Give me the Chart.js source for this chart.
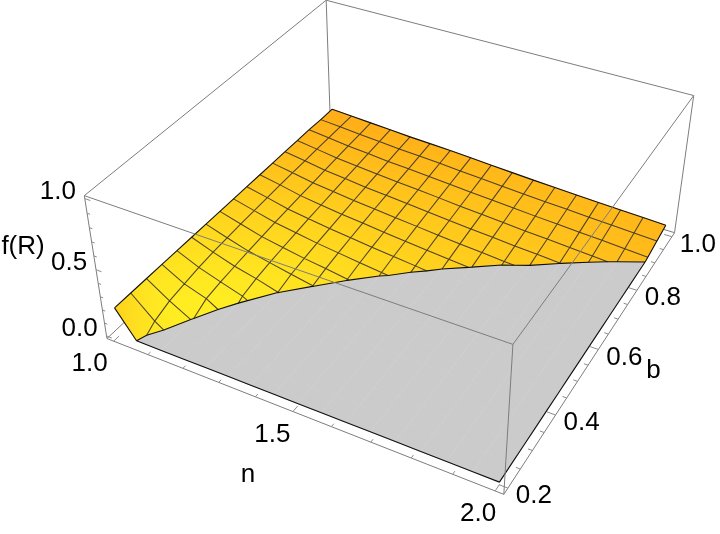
<!DOCTYPE html>
<html>
<head>
<meta charset="utf-8">
<style>
  html, body { margin: 0; padding: 0; background: #fff; }
  #plot { display: block; }
</style>
<script src="https://cdn.jsdelivr.net/npm/chart.js@4"></script>
</head>
<body>
<canvas id="plot" width="720" height="534"></canvas>
<script>
const nGrid = [1, 1.0625, 1.125, 1.1875, 1.25, 1.3125, 1.375, 1.4375, 1.5, 1.5625, 1.625, 1.6875, 1.75, 1.8125, 1.875, 1.9375, 2];
const bGrid = [0.2, 0.25, 0.3, 0.35, 0.4, 0.45, 0.5, 0.55, 0.6, 0.65, 0.7, 0.75, 0.8, 0.85, 0.9, 0.95, 1];
const fRows = [
  [.2, .2, .2, .2, .2, .2, .2, .2, .2, .2, .2, .2, .2, .2, .2, .195, .195],
  [-.035, .045, .088, .108, .128, .14, .148, .155, .16, .165, .17, .173, .176, .179, .181, .183, .185],
  [-.14, -.07, -.006, .053, .073, .087, .1, .11, .12, .128, .136, .143, .15, .157, .163, .169, .175],
  [-.17, -.13, -.09, -.049, .021, .048, .066, .08, .093, .104, .114, .124, .133, .141, .15, .158, .165],
  [-.22, -.19, -.16, -.115, -.07, .001, .033, .051, .067, .08, .093, .105, .115, .126, .136, .146, .155],
  [-.18, -.15, -.12, -.09, -.06, -.03, .001, .028, .046, .062, .077, .09, .102, .114, .126, .137, .148],
  [-.175, -.15, -.125, -.1, -.075, -.05, -.025, .002, .025, .043, .059, .074, .088, .102, .115, .128, .14],
  [-.185, -.16, -.14, -.115, -.09, -.07, -.045, -.024, .006, .026, .043, .059, .074, .089, .103, .116, .13],
  [-.175, -.155, -.135, -.115, -.095, -.075, -.055, -.035, -.014, .009, .027, .044, .06, .075, .09, .105, .12],
  [-.188, -.168, -.148, -.128, -.108, -.088, -.068, -.048, -.028, -.008, .012, .03, .047, .063, .079, .095, .11],
  [-.18, -.162, -.144, -.126, -.108, -.09, -.072, -.054, -.036, -.018, -.0015, .018, .035, .052, .068, .084, .1],
  [-.191, -.174, -.156, -.138, -.12, -.103, -.085, -.067, -.05, -.032, -.014, .004, .021, .039, .057, .074, .092],
  [-.203, -.185, -.167, -.149, -.131, -.113, -.095, -.077, -.059, -.041, -.023, -.005, .0125, .03, .048, .066, .084],
  [-.228, -.209, -.19, -.171, -.152, -.133, -.114, -.095, -.076, -.057, -.038, -.019, .0005, .019, .038, .057, .076],
  [-.256, -.236, -.215, -.195, -.175, -.154, -.134, -.114, -.093, -.073, -.053, -.032, -.012, .008, .028, .049, .069],
  [-.292, -.27, -.248, -.226, -.204, -.181, -.159, -.137, -.115, -.093, -.071, -.049, -.027, -.004, .018, .04, .062],
  [-.328, -.304, -.28, -.256, -.232, -.208, -.184, -.16, -.136, -.112, -.089, -.065, -.041, -.017, .007, .031, .055]
];
const nTicks = [1, 1.1, 1.2, 1.3, 1.4, 1.5, 1.6, 1.7, 1.8, 1.9, 2];
const bTicks = [0.2, 0.25, 0.3, 0.35, 0.4, 0.45, 0.5, 0.55, 0.6, 0.65, 0.7, 0.75, 0.8, 0.85, 0.9, 0.95, 1];
const zTicks = [0, 0.1, 0.2, 0.3, 0.4, 0.5, 0.6, 0.7, 0.8, 0.9, 1];
const nLabels = [1, 1.5, 2];
const bLabels = [0.2, 0.4, 0.6, 0.8, 1];
const zLabels = [0, 0.5, 1];

// plot box limits (2% padding round the data, as the original has)
const nBox = [0.98, 2.02];
const bBox = [0.184, 1.016];
const zBox = [-0.02, 1.02];

// where the 8 box corners land on the page, used to fit the camera
const cornerFit = [
  [0, 0, 0, 107, 338], [1, 0, 0, 504, 494], [1, 1, 0, 675, 233], [0, 1, 0, 330, 130],
  [0, 0, 1, 84, 196], [1, 0, 1, 513, 345], [1, 1, 1, 693, 95], [0, 1, 1, 327, 0]
];

function solve(A, y) {
  const m = A.map((row, i) => row.concat(y[i]));
  const k = m.length;
  for (let i = 0; i < k; i++) {
    let best = i;
    for (let r = i + 1; r < k; r++) if (Math.abs(m[r][i]) > Math.abs(m[best][i])) best = r;
    [m[i], m[best]] = [m[best], m[i]];
    for (let r = 0; r < k; r++) {
      if (r === i) continue;
      const f = m[r][i] / m[i][i];
      for (let c = i; c <= k; c++) m[r][c] -= f * m[i][c];
    }
  }
  return m.map((row, i) => row[k] / row[i]);
}

function fitCamera() {
  const rows = [], rhs = [];
  cornerFit.forEach(([u, v, w, x, y]) => {
    rows.push([u, v, w, 1, 0, 0, 0, 0, -x * u, -x * v, -x * w]); rhs.push(x);
    rows.push([0, 0, 0, 0, u, v, w, 1, -y * u, -y * v, -y * w]); rhs.push(y);
  });
  const AtA = [], Atb = [];
  for (let i = 0; i < 11; i++) {
    AtA.push([]);
    for (let j = 0; j < 11; j++) AtA[i].push(rows.reduce((s, r) => s + r[i] * r[j], 0));
    Atb.push(rows.reduce((s, r, k) => s + r[i] * rhs[k], 0));
  }
  return solve(AtA, Atb);
}
const cam = fitCamera();

function project(n, b, z) {
  const u = (n - nBox[0]) / (nBox[1] - nBox[0]);
  const v = (b - bBox[0]) / (bBox[1] - bBox[0]);
  const w = (z - zBox[0]) / (zBox[1] - zBox[0]);
  const d = cam[8] * u + cam[9] * v + cam[10] * w + 1;
  return {
    x: (cam[0] * u + cam[1] * v + cam[2] * w + cam[3]) / d,
    y: (cam[4] * u + cam[5] * v + cam[6] * w + cam[7]) / d
  };
}

const ctx = document.getElementById('plot').getContext('2d');

// colour over the sheet: orange at the back, yellow hot spot near the left front,
// going orange again in the steep corner at the far left
function shadeT(x, y) {
  const d = Math.hypot((x - 195) / 2.4, y - 312);
  let t = 1 - Math.pow(d / 215, 1.15);
  t += 0.15 * Math.min(1, Math.max(0, (x - 400) / 250));
  const corner = Math.hypot(x - 113, y - 312);
  t *= 1 - 0.65 * Math.exp(-corner / 18);
  return t;
}
function shade(t) {
  const k = Math.max(0, t);
  const g = Math.round(170 + (240 - 170) * k);
  const bl = Math.round(24 + (34 - 24) * k);
  return 'rgb(255,' + g + ',' + bl + ')';
}
// linear gradient laid along the local slope of the colour, so neighbours join up
function cellGradient(quad) {
  const pts = quad.map(p => project(p.n, p.b, Math.max(p.z, 0)));
  const cx = pts.reduce((s, p) => s + p.x, 0) / 4;
  const cy = pts.reduce((s, p) => s + p.y, 0) / 4;
  const gx = shadeT(cx + 4, cy) - shadeT(cx - 4, cy);
  const gy = shadeT(cx, cy + 4) - shadeT(cx, cy - 4);
  const len = Math.hypot(gx, gy) || 1;
  const ux = gx / len * 30, uy = gy / len * 30;
  const grad = ctx.createLinearGradient(cx - ux, cy - uy, cx + ux, cy + uy);
  grad.addColorStop(0, shade(shadeT(cx - ux, cy - uy)));
  grad.addColorStop(0.5, shade(shadeT(cx, cy)));
  grad.addColorStop(1, shade(shadeT(cx + ux, cy + uy)));
  return grad;
}

// cut a polygon at z = 0 and keep the side given by sign
function clipZero(poly, sign) {
  const out = [];
  poly.forEach((p, i) => {
    const q = poly[(i + 1) % poly.length];
    const pIn = sign * p.z >= 0, qIn = sign * q.z >= 0;
    if (pIn) out.push(p);
    if (pIn !== qIn) {
      const t = p.z / (p.z - q.z);
      out.push({ n: p.n + t * (q.n - p.n), b: p.b + t * (q.b - p.b), z: 0 });
    }
  });
  return out;
}

function vertex(i, j) { return { n: nGrid[i], b: bGrid[j], z: fRows[i][j] }; }

function polyline(points, extra) {
  return Object.assign({ data: points, showLine: true, pointRadius: 0, borderWidth: 1, tension: 0, fill: false }, extra);
}
// several separate strokes in one dataset, broken by null points
function strokes(list, color, width) {
  const data = [];
  list.forEach(seg => {
    seg.forEach(p => data.push(project(p[0], p[1], p[2])));
    data.push({ x: null, y: null });
  });
  return polyline(data, { borderColor: color, borderWidth: width });
}

const [n0, n1] = nBox, [b0, b1] = bBox, [z0, z1] = zBox;
const boxColor = '#7d7d7d';
const backEdges = [
  [[n0, b1, z0], [n0, b1, z1]],
  [[n0, b0, z1], [n0, b1, z1]],
  [[n0, b1, z1], [n1, b1, z1]],
  [[n1, b1, z0], [n1, b1, z1]],
  [[n0, b0, z0], [n0, b1, z0]],
  [[n0, b1, z0], [n1, b1, z0]],
  [[n0, b0, z0], [n0, b0, z1]],
  [[n0, b0, z0], [n1, b0, z0]],
  [[n1, b0, z0], [n1, b1, z0]]
];
const frontEdges = [
  [[n0, b0, z1], [n1, b0, z1]],
  [[n1, b0, z1], [n1, b1, z1]],
  [[n1, b0, z0], [n1, b0, z1]]
];

const spanN = n1 - n0, spanB = b1 - b0;
const tickSegs = [];
nTicks.forEach(n => {
  const len = nLabels.includes(n) ? 0.02 : 0.01;
  tickSegs.push([[n, b0, z0], [n, b0 + len * spanB, z0]]);
});
bTicks.forEach(b => {
  const len = bLabels.includes(b) ? 0.02 : 0.01;
  tickSegs.push([[n1, b, z0], [n1 - len * spanN, b, z0]]);
});
zTicks.forEach(z => {
  const len = zLabels.includes(z) ? 0.015 : 0.008;
  tickSegs.push([[n0, b0, z], [n0 + len * spanN, b0, z]]);
});

// build everything in painting order
const layers = [];
layers.push(strokes(backEdges, boxColor, 1));
layers.push(strokes(tickSegs, '#8c8c8c', 1));

const grey = '#cbcbcb';
const sheet = [];
for (let j = bGrid.length - 2; j >= 0; j--) {
  for (let i = 0; i < nGrid.length - 1; i++) {
    const quad = [vertex(i, j), vertex(i + 1, j), vertex(i + 1, j + 1), vertex(i, j + 1)];
    const below = clipZero(quad, -1);
    if (below.length > 2) {
      layers.push(polyline(below.map(p => project(p.n, p.b, 0)), { fill: 'shape', backgroundColor: grey, borderColor: grey, borderWidth: 0.8 }));
    }
    sheet.push(quad);
  }
}
sheet.forEach(quad => {
  const above = clipZero(quad, 1);
  if (above.length < 3) return;
  const grad = cellGradient(quad);
  layers.push(polyline(above.map(p => project(p.n, p.b, p.z)), { fill: 'shape', backgroundColor: grad, borderColor: grad, borderWidth: 0.7 }));
});

// a line along the grid, only the part above zero
function aboveParts(pts) {
  const parts = [];
  let cur = [];
  for (let k = 0; k < pts.length; k++) {
    const p = pts[k];
    if (p.z >= 0) cur.push([p.n, p.b, p.z]);
    if (k < pts.length - 1) {
      const q = pts[k + 1];
      if ((p.z >= 0) !== (q.z >= 0)) {
        const t = p.z / (p.z - q.z);
        const cross = [p.n + t * (q.n - p.n), p.b + t * (q.b - p.b), 0];
        cur.push(cross);
        if (p.z >= 0) { parts.push(cur); cur = []; }
      }
    }
  }
  if (cur.length > 1) parts.push(cur);
  return parts;
}

const meshSegs = [];
for (let i = 1; i < nGrid.length - 1; i++) {
  meshSegs.push(...aboveParts(bGrid.map((_, j) => vertex(i, j))));
}
for (let j = 1; j < bGrid.length - 1; j++) {
  meshSegs.push(...aboveParts(nGrid.map((_, i) => vertex(i, j))));
}
layers.push(strokes(meshSegs, 'rgba(58,50,36,0.9)', 1.05));

// black outline: sheet rim, zero contour, floor rim
const rimSegs = [];
rimSegs.push(bGrid.map((_, j) => { const p = vertex(0, j); return [p.n, p.b, p.z]; }));
rimSegs.push(nGrid.map((_, i) => { const p = vertex(i, bGrid.length - 1); return [p.n, p.b, p.z]; }));
rimSegs.push(...aboveParts(bGrid.map((_, j) => vertex(nGrid.length - 1, j))));
rimSegs.push(...aboveParts(nGrid.map((_, i) => vertex(i, 0))));
// floor rim where the sheet is clipped
const floorFront = [], floorSide = [];
nGrid.forEach((n, i) => { const p = vertex(i, 0); if (p.z <= 0) floorFront.push([n, bGrid[0], 0]); });
floorFront.unshift(aboveParts(nGrid.map((_, i) => vertex(i, 0)))[0].slice(-1)[0]);
bGrid.forEach((b, j) => { const p = vertex(nGrid.length - 1, j); if (p.z <= 0) floorSide.push([nGrid[nGrid.length - 1], b, 0]); });
floorSide.push(aboveParts(bGrid.map((_, j) => vertex(nGrid.length - 1, j)))[0][0]);
rimSegs.push(floorFront, floorSide);
// zero contour, one piece per cell
for (let i = 0; i < nGrid.length - 1; i++) {
  for (let j = 0; j < bGrid.length - 1; j++) {
    const quad = [vertex(i, j), vertex(i + 1, j), vertex(i + 1, j + 1), vertex(i, j + 1)];
    const hits = [];
    quad.forEach((p, k) => {
      const q = quad[(k + 1) % 4];
      if ((p.z >= 0) !== (q.z >= 0)) {
        const t = p.z / (p.z - q.z);
        hits.push([p.n + t * (q.n - p.n), p.b + t * (q.b - p.b), 0]);
      }
    });
    if (hits.length === 2) rimSegs.push(hits);
  }
}
layers.push(strokes(rimSegs, '#111', 1.1));
layers.push(strokes(frontEdges, boxColor, 1));

// chart.js paints dataset 0 last, so flip the painting order
const datasets = layers.reverse();

const labelFont = '26px "Liberation Sans", Arial, sans-serif';
const axisText = {
  id: 'axisText',
  afterDraw(chart) {
    const c = chart.ctx;
    const sx = chart.scales.x, sy = chart.scales.y;
    c.save();
    c.fillStyle = '#000';
    c.font = labelFont;
    c.textAlign = 'center';
    c.textBaseline = 'middle';
    const put = (text, p, dx, dy) => c.fillText(text, sx.getPixelForValue(p.x) + dx, sy.getPixelForValue(p.y) + dy);
    nLabels.forEach(n => put(n.toFixed(1), project(n, b0, z0), -24 + 7 * (n - 1), 23));
    bLabels.forEach(b => put(b.toFixed(1), project(n1, b, z0), 26, 8));
    zLabels.forEach(z => put(z.toFixed(1), project(n0, b0, z), -27, -7));
    put('n', project(1.5, b0, z0), -45, 63);
    put('b', project(n1, 0.6, z0), 55, 21);
    put('f(R)', project(n0, b0, 0.5), -73, -23);
    c.restore();
  }
};

new Chart(ctx, {
  type: 'scatter',
  data: { datasets },
  plugins: [axisText],
  options: {
    responsive: false,
    animation: false,
    events: [],
    layout: { padding: 0 },
    plugins: { legend: { display: false }, tooltip: { enabled: false }, title: { display: false } },
    scales: {
      x: { type: 'linear', display: false, min: 0, max: 720 },
      y: { type: 'linear', display: false, min: 0, max: 534, reverse: true }
    }
  }
});
</script>
</body>
</html>
